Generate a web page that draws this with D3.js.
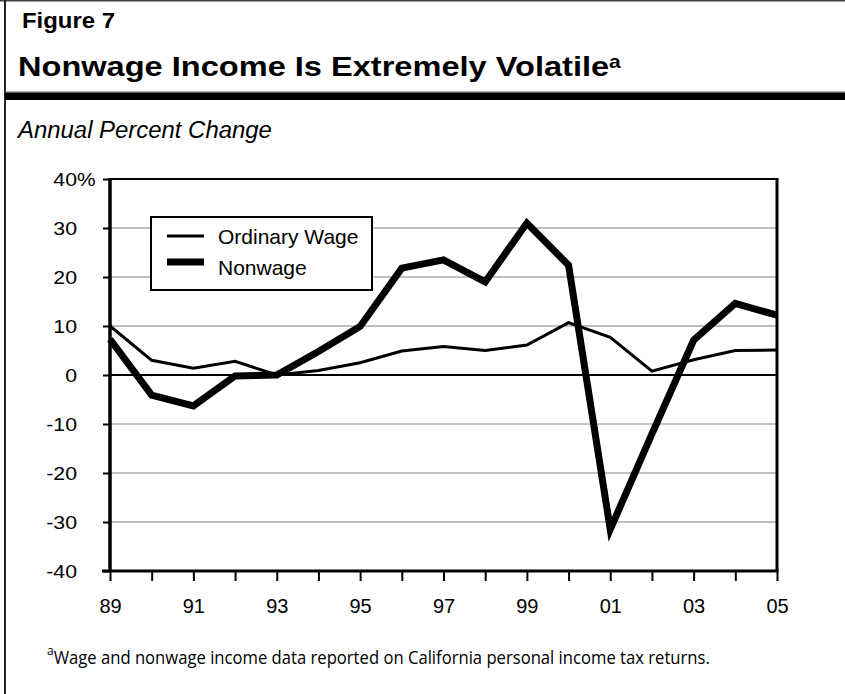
<!DOCTYPE html>
<html>
<head>
<meta charset="utf-8">
<script src="https://cdn.jsdelivr.net/npm/d3@7"></script>
<style>
  html, body { margin: 0; padding: 0; background: #fff; }
  svg { display: block; }
</style>
</head>
<body>
<svg id="chart" width="845" height="694"></svg>
<script>
// ---- Data ----
const years = [1989,1990,1991,1992,1993,1994,1995,1996,1997,1998,1999,2000,2001,2002,2003,2004,2005];
const ordinaryWage = [10.0, 3.0, 1.4, 2.8, 0.0, 0.9, 2.5, 4.9, 5.8, 5.0, 6.1, 10.7, 7.7, 0.8, 3.1, 5.0, 5.1];
const nonwage = [7.3, -4.1, -6.3, -0.2, 0.0, 4.8, 9.9, 21.8, 23.5, 19.0, 31.0, 22.4, -31.5, -12.0, 7.1, 14.6, 12.2];
const yTicks = [-40, -30, -20, -10, 0, 10, 20, 30, 40];
const xTickLabels = ["89","91","93","95","97","99","01","03","05"];
const seriesNames = ["Ordinary Wage", "Nonwage"];

const figureLabel = "Figure 7";
const titleText = "Nonwage Income Is Extremely Volatile";
const subtitleText = "Annual Percent Change";
const footnoteText = "Wage and nonwage income data reported on California personal income tax returns.";

(function draw() {
// ---- Layout ----
const svg = d3.select("#chart");
const pL = 110, pR = 777, pT = 179, pB = 571;
const x = d3.scaleLinear().domain([1989, 2005]).range([pL, pR]);
const y = d3.scaleLinear().domain([-40, 40]).range([pB, pT]);

// frame
svg.append("line").attr("x1", 0).attr("x2", 845).attr("y1", 0.75).attr("y2", 0.75)
  .attr("stroke", "#444").attr("stroke-width", 1.5);
svg.append("line").attr("x1", 5).attr("x2", 5).attr("y1", 0).attr("y2", 694)
  .attr("stroke", "#222").attr("stroke-width", 2);
svg.append("line").attr("x1", 5).attr("x2", 845).attr("y1", 92).attr("y2", 92)
  .attr("stroke", "#666").attr("stroke-width", 1);
svg.append("rect").attr("x", 5).attr("y", 92.5).attr("width", 840).attr("height", 7.5).attr("fill", "#000");

// horizontally scale a text element (anchored at x0) to the target width
function fitScale(sel, x0, w) {
  const nat = sel.node().getComputedTextLength();
  const k = w / nat;
  sel.attr("x", 0).attr("transform", `translate(${x0},0) scale(${k},1)`);
}

const fig = svg.append("text").attr("y", 28)
  .attr("font-family", "Liberation Sans, Arial, sans-serif").attr("font-weight", "bold")
  .attr("font-size", 22).attr("fill", "#000").text(figureLabel);
fitScale(fig, 22, 93);

const title = svg.append("text").attr("y", 76)
  .attr("font-family", "Liberation Sans, Arial, sans-serif").attr("font-weight", "bold")
  .attr("font-size", 28).attr("fill", "#000");
title.append("tspan").text(titleText);
title.append("tspan").attr("font-size", 18).attr("dy", -8).text("a");
fitScale(title, 18, 603);

const sub = svg.append("text").attr("y", 138)
  .attr("font-family", "Liberation Sans, Arial, sans-serif").attr("font-style", "italic")
  .attr("font-size", 23).attr("fill", "#000").text(subtitleText);
fitScale(sub, 18, 254);

// gridlines
const g = svg.append("g");
g.selectAll("line.grid").data(yTicks.filter(d => d !== 0 && d !== 40 && d !== -40))
  .join("line").attr("class", "grid")
  .attr("x1", pL).attr("x2", pR)
  .attr("y1", d => y(d)).attr("y2", d => y(d))
  .attr("stroke", "#c0c0c0").attr("stroke-width", 2);

// zero line
g.append("line").attr("x1", pL).attr("x2", pR).attr("y1", y(0)).attr("y2", y(0))
  .attr("stroke", "#000").attr("stroke-width", 2);

// plot top and right border
g.append("line").attr("x1", pL).attr("x2", pR + 1.5).attr("y1", pT).attr("y2", pT)
  .attr("stroke", "#000").attr("stroke-width", 2);
g.append("line").attr("x1", pR).attr("x2", pR).attr("y1", pT).attr("y2", pB)
  .attr("stroke", "#000").attr("stroke-width", 3);

// Y axis
const yAxis = d3.axisLeft(y).tickValues(yTicks).tickSize(7).tickPadding(26)
  .tickFormat(d => String(d));
const ya = svg.append("g").attr("transform", `translate(${pL},0)`).call(yAxis);
ya.select(".domain").remove();
ya.selectAll(".tick line").attr("stroke", "#000").attr("stroke-width", 2);
ya.selectAll(".tick text")
  .attr("font-family", "Liberation Sans, Arial, sans-serif")
  .attr("font-size", 19).attr("fill", "#000")
  .each(function() {
    const t = d3.select(this);
    const xx = +t.attr("x");
    t.attr("x", 0).attr("transform", `translate(${xx},0) scale(1.12,1)`);
  });
// percent sign on top label
ya.selectAll(".tick").filter(d => d === 40).append("text")
  .attr("dy", "0.32em").attr("text-anchor", "start")
  .attr("transform", "translate(-33,0) scale(1.1,1)")
  .attr("font-family", "Liberation Sans, Arial, sans-serif")
  .attr("font-size", 19).attr("fill", "#000")
  .text("%");
svg.append("line").attr("x1", pL).attr("x2", pL).attr("y1", pT - 1).attr("y2", pB + 1)
  .attr("stroke", "#000").attr("stroke-width", 3.5);

// X axis
const xAxis = d3.axisBottom(x).tickValues(years).tickSize(10).tickPadding(18)
  .tickFormat(d => {
    const s = String(d).slice(2);
    return xTickLabels.includes(s) ? s : "";
  });
const xa = svg.append("g").attr("transform", `translate(0,${pB})`).call(xAxis);
xa.select(".domain").remove();
xa.selectAll(".tick line").attr("stroke", "#000").attr("stroke-width", 2);
xa.selectAll(".tick text")
  .attr("font-family", "Liberation Sans, Arial, sans-serif")
  .attr("font-size", 20).attr("fill", "#000");
svg.append("line").attr("x1", pL - 8).attr("x2", pR + 1.5).attr("y1", pB).attr("y2", pB)
  .attr("stroke", "#000").attr("stroke-width", 3);

// lines
const line = d3.line().x((d, i) => x(years[i])).y(d => y(d));
svg.append("path").datum(ordinaryWage).attr("d", line)
  .attr("fill", "none").attr("stroke", "#000").attr("stroke-width", 3)
  .attr("stroke-linejoin", "miter").attr("stroke-linecap", "butt");
svg.append("path").datum(nonwage).attr("d", line)
  .attr("fill", "none").attr("stroke", "#000").attr("stroke-width", 7)
  .attr("stroke-linejoin", "miter").attr("stroke-miterlimit", 10).attr("stroke-linecap", "butt");

// legend
const lg = svg.append("g");
lg.append("rect").attr("x", 151).attr("y", 217).attr("width", 221).attr("height", 73)
  .attr("fill", "#fff").attr("stroke", "#000").attr("stroke-width", 2);
const legendWidths = [3, 7];
const legendYs = [236, 262];
seriesNames.forEach((name, i) => {
  lg.append("line").attr("x1", 167).attr("x2", 204).attr("y1", legendYs[i]).attr("y2", legendYs[i])
    .attr("stroke", "#000").attr("stroke-width", legendWidths[i]);
  lg.append("text").attr("x", 218).attr("y", legendYs[i] + (i === 0 ? 7.5 : 13))
    .attr("font-family", "Liberation Sans, Arial, sans-serif").attr("font-size", 21)
    .attr("fill", "#000").text(name);
});

// footnote
const fn = svg.append("text").attr("y", 664)
  .attr("font-family", "Open Sans, sans-serif").attr("font-size", 18).attr("fill", "#000");
fn.append("tspan").attr("font-size", 13).attr("dy", -9).text("a");
fn.append("tspan").attr("dy", 9).text(footnoteText);
fitScale(fn, 47, 663);
})();
</script>
</body>
</html>
